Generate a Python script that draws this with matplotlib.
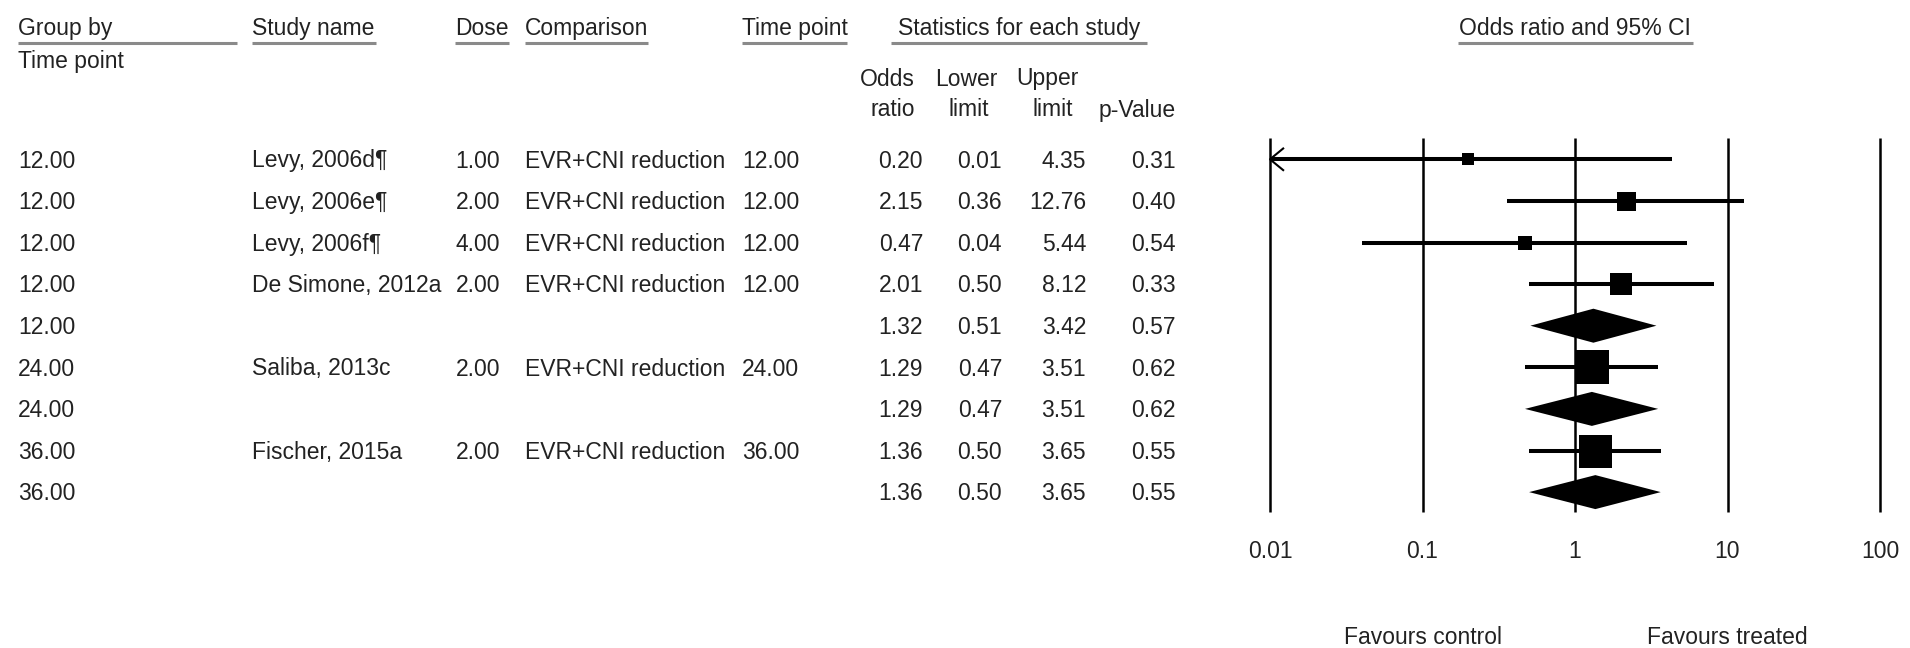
import numpy as np
import matplotlib
matplotlib.use("Agg")
import matplotlib.pyplot as plt

plt.rcParams["font.family"] = ["Liberation Sans", "DejaVu Sans"]

# Table / forest data (one entry per row, top to bottom)
group_tp = ["12.00", "12.00", "12.00", "12.00", "12.00", "24.00", "24.00", "36.00", "36.00"]
study = ["Levy, 2006d\u00b6", "Levy, 2006e\u00b6", "Levy, 2006f\u00b6", "De Simone, 2012a", "",
         "Saliba, 2013c", "", "Fischer, 2015a", ""]
dose = ["1.00", "2.00", "4.00", "2.00", "", "2.00", "", "2.00", ""]
comparison = ["EVR+CNI reduction"] * 4 + [""] + ["EVR+CNI reduction", "", "EVR+CNI reduction", ""]
time_point = ["12.00", "12.00", "12.00", "12.00", "", "24.00", "", "36.00", ""]
odds = [0.20, 2.15, 0.47, 2.01, 1.32, 1.29, 1.29, 1.36, 1.36]
lower = [0.01, 0.36, 0.04, 0.50, 0.51, 0.47, 0.47, 0.50, 0.50]
upper = [4.35, 12.76, 5.44, 8.12, 3.42, 3.51, 3.51, 3.65, 3.65]
pvalue = [0.31, 0.40, 0.54, 0.33, 0.57, 0.62, 0.62, 0.55, 0.55]
summary = [False, False, False, False, True, False, True, False, True]
box_px = [12, 19, 14, 23, 0, 34, 0, 33, 0]  # square side in pixels (study weight)

ticks = [0.01, 0.1, 1, 10, 100]
tick_labels = ["0.01", "0.1", "1", "10", "100"]

# layout: pixel rows -> data rows
W, H = 1910, 648
Y0, STEP = 159.3, 41.6
def py(px):
    return (px - Y0) / STEP
BASE = 8.2 / STEP  # center -> baseline offset
FS = 16.5
TXT = "#222222"
ULINE = "#8a8a8a"

fig = plt.figure(figsize=(19.1, 6.48), dpi=100)
fig.patch.set_facecolor("white")

ax_tab = fig.add_axes([0, 0, 1, 1])
ax_tab.set_xlim(0, W)
ax_tab.set_ylim(py(H), py(0))
ax_tab.axis("off")

ax = fig.add_axes([1270 / W, 0, 610 / W, 1])
ax.set_xscale("log")
ax.set_xlim(ticks[0], ticks[-1])
ax.set_ylim(py(H), py(0))
ax.axis("off")

# header
head_y = py(26.7) + BASE
headers = [("Group by", 18, 237), ("Study name", 252, 375.5), ("Dose", 455, 509),
           ("Comparison", 524.5, 647.7), ("Time point", 741.7, 846.7)]
for txt, x0, x1 in headers:
    ax_tab.text(x0, head_y, txt, fontsize=FS, color=TXT, ha="left", va="baseline")
    ax_tab.plot([x0, x1], [py(43)] * 2, color=ULINE, lw=2.2, solid_capstyle="butt")
ax_tab.text(18, py(60) + BASE, "Time point", fontsize=FS, color=TXT, ha="left", va="baseline")
ax_tab.text(1019, head_y, "Statistics for each study", fontsize=FS, color=TXT, ha="center", va="baseline")
ax_tab.plot([891, 1147], [py(43)] * 2, color=ULINE, lw=2.2, solid_capstyle="butt")

sub_heads = [("Odds", "ratio", 887.5, 892.5), ("Lower", "limit", 966, 969), ("Upper", "limit", 1047, 1053),
             ("", "p-Value", 1137, 1137)]
for top, bottom, xt, xb in sub_heads:
    ax_tab.text(xt, py(77.3) + BASE, top, fontsize=FS, color=TXT, ha="center", va="baseline")
    ax_tab.text(xb, py(108.3) + BASE, bottom, fontsize=FS, color=TXT, ha="center", va="baseline")

ax.text(1, head_y, "Odds ratio and 95% CI", fontsize=FS, color=TXT, ha="center", va="baseline")
ax_tab.plot([1458, 1693], [py(43)] * 2, color=ULINE, lw=2.2, solid_capstyle="butt")

# table body
for i in range(len(odds)):
    yb = i + BASE
    ax_tab.text(18, yb, group_tp[i], fontsize=FS, color=TXT, ha="left", va="baseline")
    ax_tab.text(252, yb, study[i], fontsize=FS, color=TXT, ha="left", va="baseline")
    ax_tab.text(500, yb, dose[i], fontsize=FS, color=TXT, ha="right", va="baseline")
    ax_tab.text(524.5, yb, comparison[i], fontsize=FS, color=TXT, ha="left", va="baseline")
    ax_tab.text(742, yb, time_point[i], fontsize=FS, color=TXT, ha="left", va="baseline")
    ax_tab.text(923, yb, f"{odds[i]:.2f}", fontsize=FS, color=TXT, ha="right", va="baseline")
    ax_tab.text(1002, yb, f"{lower[i]:.2f}", fontsize=FS, color=TXT, ha="right", va="baseline")
    ax_tab.text(1086, yb, f"{upper[i]:.2f}", fontsize=FS, color=TXT, ha="right", va="baseline")
    ax_tab.text(1176, yb, f"{pvalue[i]:.2f}", fontsize=FS, color=TXT, ha="right", va="baseline")

# forest plot
ax.vlines(ticks, py(138), py(512), color="black", lw=1.8, clip_on=False)
half_h = 17 / STEP
for i in range(len(odds)):
    if summary[i]:
        ax.fill([lower[i], odds[i], upper[i], odds[i]], [i, i - half_h, i, i + half_h],
                color="black", lw=0, clip_on=False)
    else:
        ax.plot([lower[i], upper[i]], [i, i], color="black", lw=2.9, solid_capstyle="butt", clip_on=False)
        ax.plot(odds[i], i, "s", color="black", ms=box_px[i] * 0.72, mew=0, clip_on=False)
        if lower[i] <= ticks[0]:
            # CI runs off the scale: open arrow head
            ax.plot([lower[i] * 1.22, lower[i], lower[i] * 1.22], [i - 0.26, i, i + 0.26],
                    color="black", lw=1.5, clip_on=False)

for t, lab in zip(ticks, tick_labels):
    ax.text(t, py(550) + BASE, lab, fontsize=FS, color=TXT, ha="center", va="baseline")
ax.text(ticks[1], py(636) + BASE, "Favours control", fontsize=FS, color=TXT, ha="center", va="baseline")
ax.text(ticks[3], py(636) + BASE, "Favours treated", fontsize=FS, color=TXT, ha="center", va="baseline")

fig.savefig("out.png", dpi=100, facecolor="white")
